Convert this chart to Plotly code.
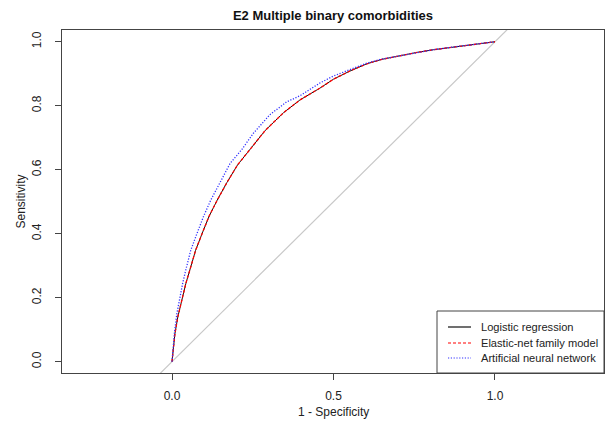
import plotly.graph_objects as go

# ROC curve points (x = 1 - specificity, y = sensitivity)
lr_fpr = [0, 0.004, 0.009, 0.018, 0.030, 0.043, 0.058, 0.073, 0.093, 0.115, 0.140, 0.170,
          0.203, 0.240, 0.288, 0.345, 0.396, 0.458, 0.500, 0.550, 0.603, 0.650, 0.706,
          0.760, 0.809, 0.860, 0.912, 0.955, 1.0]
lr_tpr = [0, 0.040, 0.087, 0.140, 0.191, 0.245, 0.296, 0.348, 0.400, 0.455, 0.505, 0.560,
          0.615, 0.662, 0.722, 0.778, 0.818, 0.855, 0.883, 0.908, 0.931, 0.945, 0.957,
          0.967, 0.975, 0.982, 0.988, 0.995, 1.0]

en_fpr = [0, 0.004, 0.009, 0.018, 0.030, 0.043, 0.058, 0.073, 0.093, 0.115, 0.140, 0.170,
          0.203, 0.240, 0.288, 0.345, 0.396, 0.458, 0.500, 0.550, 0.603, 0.650, 0.706,
          0.760, 0.809, 0.860, 0.912, 0.955, 1.0]
en_tpr = [0, 0.040, 0.087, 0.140, 0.191, 0.245, 0.296, 0.348, 0.400, 0.455, 0.505, 0.560,
          0.615, 0.662, 0.722, 0.778, 0.818, 0.855, 0.883, 0.908, 0.931, 0.945, 0.957,
          0.967, 0.975, 0.982, 0.988, 0.995, 1.0]

ann_fpr = [0, 0.003, 0.008, 0.015, 0.022, 0.033, 0.045, 0.058, 0.077, 0.098, 0.120, 0.152,
           0.180, 0.216, 0.252, 0.303, 0.355, 0.396, 0.458, 0.500, 0.550, 0.603, 0.650,
           0.706, 0.760, 0.809, 0.860, 0.912, 0.955, 1.0]
ann_tpr = [0, 0.045, 0.095, 0.150, 0.191, 0.245, 0.296, 0.348, 0.400, 0.455, 0.505, 0.567,
           0.620, 0.663, 0.714, 0.772, 0.812, 0.831, 0.871, 0.893, 0.913, 0.933, 0.946,
           0.957, 0.967, 0.975, 0.982, 0.988, 0.995, 1.0]

diag = [-0.2, 1.2]

x_ticks = [0.0, 0.5, 1.0]
x_tick_labels = ["0.0", "0.5", "1.0"]
y_ticks = [0.0, 0.2, 0.4, 0.6, 0.8, 1.0]
y_tick_labels = ["0.0", "0.2", "0.4", "0.6", "0.8", "1.0"]

names = ["Logistic regression", "Elastic-net family model", "Artificial neural network"]
colors = ["#111111", "#ff0000", "#3333ff"]
dashes = ["solid", "3px,2px", "1.2px,1.6px"]

FONT = "Liberation Sans, Arial, sans-serif"
TXT = "#222222"

# layout geometry (pixels)
W, H = 616, 422
ML, MR, MT, MB = 62, 12, 30, 49
PW, PH = W - ML - MR, H - MT - MB


def px(xp):
    return (xp - ML) / PW


def py(yp):
    return (H - MB - yp) / PH


fig = go.Figure()
fig.add_trace(go.Scatter(x=diag, y=diag, mode="lines", showlegend=False,
                         line=dict(color="#c8c8c8", width=1.2), hoverinfo="skip"))
series = [(lr_fpr, lr_tpr), (en_fpr, en_tpr), (ann_fpr, ann_tpr)]
widths = [1.0, 1.3, 1.3]
for (xs, ys), nm, c, d, w in zip(series, names, colors, dashes, widths):
    fig.add_trace(go.Scatter(x=xs, y=ys, mode="lines", name=nm, showlegend=False,
                             line=dict(color=c, width=w, dash=d)))

# legend drawn as box + sample lines + text
shapes = [dict(type="rect", xref="paper", yref="paper", x0=px(437), x1=1, y0=0, y1=py(311),
               line=dict(color="#444444", width=1), fillcolor="white", layer="above")]
annotations = []
rows = [327, 343, 358]
for nm, c, d, r in zip(names, colors, dashes, rows):
    shapes.append(dict(type="line", xref="paper", yref="paper", x0=px(448), x1=px(471),
                       y0=py(r), y1=py(r), line=dict(color=c, width=1.2, dash=d),
                       layer="above"))
    annotations.append(dict(text=nm, xref="paper", yref="paper", x=px(479), y=py(r),
                            xanchor="left", yanchor="middle", showarrow=False,
                            font=dict(size=11.1, color=TXT, family=FONT)))

annotations.append(dict(text="1 - Specificity", xref="paper", yref="paper", x=0.5,
                        y=py(412), xanchor="center", yanchor="middle", showarrow=False,
                        font=dict(size=12, color=TXT, family=FONT)))
annotations.append(dict(text="Sensitivity", xref="paper", yref="paper", x=px(20),
                        y=0.5, xanchor="center", yanchor="middle", showarrow=False,
                        textangle=-90, font=dict(size=12, color=TXT, family=FONT)))

fig.update_layout(
    width=W, height=H,
    margin=dict(l=ML, r=MR, t=MT, b=MB),
    paper_bgcolor="white", plot_bgcolor="white",
    font=dict(family=FONT, size=12, color=TXT),
    title=dict(text="<b>E2 Multiple binary comorbidities</b>", x=0.5, xref="paper",
               y=1 - 15 / H, yref="container", xanchor="center", yanchor="middle",
               font=dict(size=13, color="#111111", family=FONT)),
    showlegend=False,
    shapes=shapes,
    annotations=annotations,
)
fig.update_xaxes(range=[-0.3406, 1.3375], tickvals=x_ticks, ticktext=x_tick_labels,
                 showgrid=False, zeroline=False, showline=True, mirror=True,
                 linecolor="#444444", linewidth=1, ticks="outside", ticklen=6,
                 tickcolor="#444444", ticklabelstandoff=6, automargin=False)
fig.update_yaxes(range=[-0.0354, 1.0367], tickvals=y_ticks, ticktext=y_tick_labels,
                 tickangle=-90,
                 showgrid=False, zeroline=False, showline=True, mirror=True,
                 linecolor="#444444", linewidth=1, ticks="outside", ticklen=6,
                 tickcolor="#444444", ticklabelstandoff=9, automargin=False)

fig.write_html("out.html")
